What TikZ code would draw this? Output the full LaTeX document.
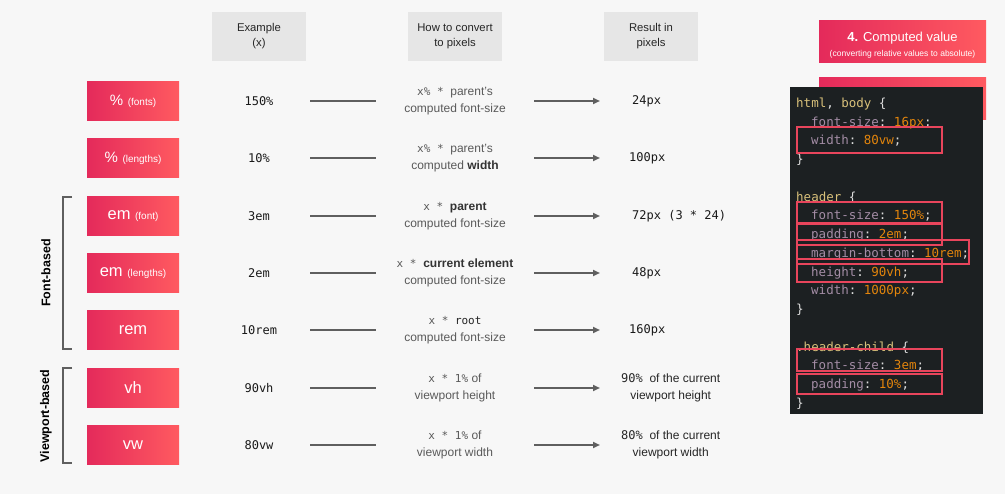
\documentclass[tikz,border=0pt]{standalone}
\usepackage{fontspec}
\setmainfont{Liberation Sans}
\setmonofont{DejaVu Sans Mono}
\usetikzlibrary{arrows.meta}

\definecolor{pagebg}{HTML}{F7F7F7}
\definecolor{headgray}{HTML}{E6E6E6}
\definecolor{unitleft}{HTML}{E42A5B}
\definecolor{unitright}{HTML}{FF5A60}
\definecolor{linegray}{HTML}{5F5F5F}
\definecolor{textgray}{HTML}{5A5A5A}
\definecolor{codebg}{HTML}{1C2022}
\definecolor{codesel}{HTML}{D8C07A}
\definecolor{codeprop}{HTML}{A48DA6}
\definecolor{codeval}{HTML}{E3850C}
\definecolor{codepunct}{HTML}{DDDDDD}
\definecolor{markred}{HTML}{E8455C}

\newcommand{\sel}[1]{\textcolor{codesel}{#1}}
\newcommand{\brc}[1]{\textcolor{codepunct}{#1}}
\newcommand{\prop}[2]{\textcolor{codeprop}{#1}\brc{:} \textcolor{codeval}{#2}\brc{;}}
\newcommand{\mono}[1]{{\ttfamily\fontsize{11}{17}\selectfont #1}}
\newcommand{\sublabel}[1]{{\fontsize{10}{12}\selectfont #1}}

\begin{document}
\begin{tikzpicture}[x=1pt,y=-1pt,
    unit/.style={left color=unitleft,right color=unitright,text=white,minimum width=92pt,minimum height=39pt,inner sep=0pt,font=\fontsize{16.5}{18}\selectfont},
    head/.style={fill=headgray,minimum width=94pt,minimum height=49pt,inner sep=0pt,align=center,text=black!85,font=\fontsize{11.3}{15}\selectfont},
    example/.style={minimum width=102pt,inner sep=0pt,text=black!90,font=\ttfamily\fontsize{12}{14}\selectfont},
    convert/.style={minimum width=158pt,inner sep=0pt,align=center,text=textgray,font=\fontsize{12}{17}\selectfont},
    result/.style={anchor=west,inner sep=0pt,text=black!90,font=\ttfamily\fontsize{12}{14}\selectfont},
    vresult/.style={anchor=west,inner sep=0pt,align=center,text=black!85,font=\fontsize{12}{17}\selectfont},
    link/.style={draw=linegray,line width=1.8pt},
    arrow/.style={link,-{Triangle[length=7pt,width=6pt]}},
    bracket/.style={draw=linegray,line width=1.5pt},
    group/.style={rotate=90,inner sep=0pt,font=\bfseries\fontsize{12.5}{14}\selectfont},
    code/.style={anchor=base west,inner sep=0pt,font=\ttfamily\fontsize{12.5}{15}\selectfont},
    markbox/.style={draw=markred,line width=2.2pt}]

  % page
  \fill[pagebg] (0,0) rectangle (1005,494);
  \useasboundingbox (0,0) rectangle (1005,494);

  % column heads
  \node[head] (hex) at (259,36.5) {Example\\(x)};
  \node[head] (hconv) at (455,36.5) {How to convert\\to pixels};
  \node[head] (hres) at (651,36.5) {Result in\\pixels};

  % units
  \node[unit] (u1) at (133,101) {{\fontsize{15}{16}\selectfont\%}~\sublabel{(fonts)}};
  \node[unit] (u2) at (133,158) {{\fontsize{15}{16}\selectfont\%}~\sublabel{(lengths)}};
  \node[unit] (u3) at (133,216) {em~\sublabel{(font)}};
  \node[unit] (u4) at (133,273) {em~\sublabel{(lengths)}};
  \node[unit] (u5) at (133,330) {rem};
  \node[unit] (u6) at (133,388) {vh};
  \node[unit] (u7) at (133,445) {vw};

  % groups
  \draw[bracket] (72,197) -- (63,197) -- (63,349) -- (72,349);
  \draw[bracket] (72,368) -- (63,368) -- (63,463) -- (72,463);
  \node[group] (gfont) at (46,273) {Font-based};
  \node[group] (gview) at (46,416) {Viewport-based};

  % examples
  \node[example] (e1) at (259,101) {150\%};
  \node[example] (e2) at (259,158) {10\%};
  \node[example] (e3) at (259,216) {3em};
  \node[example] (e4) at (259,273) {2em};
  \node[example] (e5) at (259,330) {10rem};
  \node[example] (e6) at (259,388) {90vh};
  \node[example] (e7) at (259,445) {80vw};

  % conversions
  \node[convert] (c1) at (455,101) {\mono{x\%~*}~ parent's\\computed font-size};
  \node[convert] (c2) at (455,158) {\mono{x\%~*}~ parent's\\computed \textcolor{black!80}{\textbf{width}}};
  \node[convert] (c3) at (455,216) {\mono{x~*}~ \textcolor{black!80}{\textbf{parent}}\\computed font-size};
  \node[convert] (c4) at (455,273) {\mono{x~*}~ \textcolor{black!80}{\textbf{current element}}\\computed font-size};
  \node[convert] (c5) at (455,330) {\mono{x~*~\textcolor{black!85}{root}}\\computed font-size};
  \node[convert] (c6) at (455,388) {\mono{x~*~1\%}~of\\viewport height};
  \node[convert] (c7) at (455,445) {\mono{x~*~1\%}~of\\viewport width};

  % results
  \node[result] (r1) at (632,101) {24px};
  \node[result] (r2) at (629,158) {100px};
  \node[result] (r3) at (632,216) {72px (3 * 24)};
  \node[result] (r4) at (632,273) {48px};
  \node[result] (r5) at (629,330) {160px};
  \node[vresult] (r6) at (621,388) {{\ttfamily 90\%}~ of the current\\viewport height};
  \node[vresult] (r7) at (621,445) {{\ttfamily 80\%}~ of the current\\viewport width};

  \foreach \i/\gap in {1/32,2/29,3/32,4/32,5/29,6/21,7/21} {
    \draw[link] (e\i.east) -- (c\i.west);
    \draw[arrow,shorten >=\gap pt] (c\i.east) -- (r\i.west);
  }

  % computed value panel
  \node[left color=unitleft,right color=unitright,minimum width=167pt,minimum height=42pt,inner sep=0pt,align=center,text=white] (title) at (902.5,42)
    {{\fontsize{13}{15}\selectfont\rule{0pt}{15pt}\textbf{4.} Computed value}\\[3pt]{\fontsize{8.5}{9}\selectfont(converting relative values to absolute)}};
  \shade[left color=unitleft,right color=unitright] (819,78) rectangle (986,120);
  \fill[codebg] (790,87) rectangle (983,414);

  \node[code] (l1) at (796,107.5) {\sel{html}\brc{,} \sel{body} \brc{\{}};
  \node[code] (l2) at (811,126.25) {\prop{font-size}{16px}};
  \node[code] (l3) at (811,145) {\prop{width}{80vw}};
  \node[code] (l4) at (796,163.75) {\brc{\}}};
  \node[code] (l5) at (796,201.25) {\sel{header} \brc{\{}};
  \node[code] (l6) at (811,220) {\prop{font-size}{150\%}};
  \node[code] (l7) at (811,238.75) {\prop{padding}{2em}};
  \node[code] (l8) at (811,257.5) {\prop{margin-bottom}{10rem}};
  \node[code] (l9) at (811,276.25) {\prop{height}{90vh}};
  \node[code] (l10) at (811,295) {\prop{width}{1000px}};
  \node[code] (l11) at (796,313.75) {\brc{\}}};
  \node[code] (l12) at (796,351.25) {\sel{.header-child} \brc{\{}};
  \node[code] (l13) at (811,370) {\prop{font-size}{3em}};
  \node[code] (l14) at (811,388.75) {\prop{padding}{10\%}};
  \node[code] (l15) at (796,407.5) {\brc{\}}};

  \draw[markbox] (797,127) rectangle (942,153);
  \draw[markbox] (797,202) rectangle (942,223);
  \draw[markbox] (797,224) rectangle (942,245);
  \draw[markbox] (797,240) rectangle (969,264);
  \draw[markbox] (797,259) rectangle (942,282);
  \draw[markbox] (797,349) rectangle (942,371);
  \draw[markbox] (797,374) rectangle (942,394);
\end{tikzpicture}
\end{document}
